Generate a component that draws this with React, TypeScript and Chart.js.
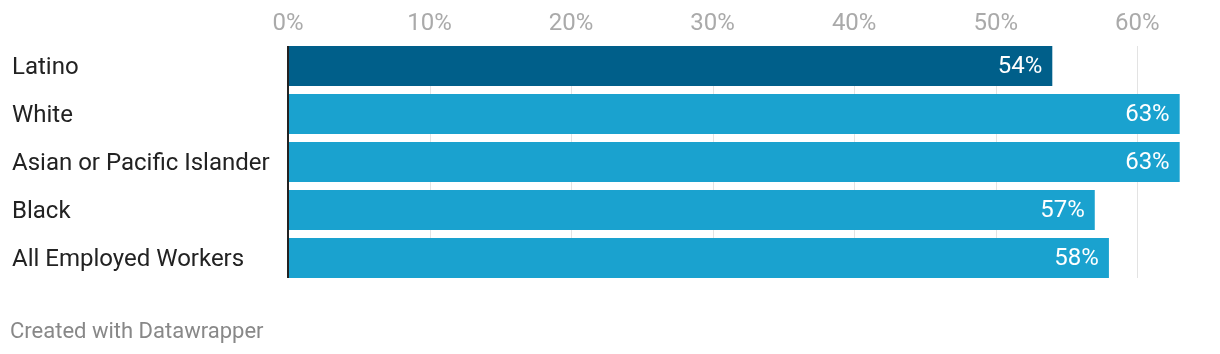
import React, { useEffect, useRef } from "react";
import { Chart, registerables } from "chart.js";

Chart.register(...registerables);

const categories = ["Latino", "White", "Asian or Pacific Islander", "Black", "All Employed Workers"];
const values = [54, 63, 63, 57, 58];
const barColors = ["#005f8a", "#1aa2cf", "#1aa2cf", "#1aa2cf", "#1aa2cf"];
const tickValues = [0, 10, 20, 30, 40, 50, 60];

const FONT = "Roboto, 'Noto Sans', sans-serif";

const gridAndAxis = {
  id: "gridAndAxis",
  beforeDatasetsDraw(chart: any) {
    const ctx = chart.ctx;
    const meta = chart.getDatasetMeta(0);
    const first = meta.data[0];
    const last = meta.data[meta.data.length - 1];
    const top = first.y - first.height / 2;
    const bottom = last.y + last.height / 2;
    const xs = chart.scales.x;
    ctx.save();
    ctx.strokeStyle = "#e3e3e3";
    ctx.lineWidth = 1;
    tickValues.forEach((v) => {
      if (v === 0) return;
      const px = Math.round(xs.getPixelForValue(v)) + 0.5;
      ctx.beginPath();
      ctx.moveTo(px, top);
      ctx.lineTo(px, bottom);
      ctx.stroke();
    });
    ctx.restore();
  },
  afterDatasetsDraw(chart: any) {
    const ctx = chart.ctx;
    const meta = chart.getDatasetMeta(0);
    const first = meta.data[0];
    const last = meta.data[meta.data.length - 1];
    const top = first.y - first.height / 2;
    const bottom = last.y + last.height / 2;
    const px = chart.scales.x.getPixelForValue(0);
    ctx.save();
    ctx.strokeStyle = "#222222";
    ctx.lineWidth = 2;
    ctx.beginPath();
    ctx.moveTo(px, top);
    ctx.lineTo(px, bottom);
    ctx.stroke();
    ctx.font = `24px ${FONT}`;
    ctx.fillStyle = "#ffffff";
    ctx.textAlign = "right";
    ctx.textBaseline = "middle";
    meta.data.forEach((bar: any, i: number) => {
      ctx.fillText(`${values[i]}%`, bar.x - 10, bar.y + 1);
    });
    ctx.restore();
  },
};

export default function App() {
  const ref = useRef<HTMLCanvasElement>(null);
  useEffect(() => {
    const chart = new Chart(ref.current!, {
      type: "bar",
      data: {
        labels: categories,
        datasets: [
          {
            data: values,
            backgroundColor: barColors,
            barPercentage: 40 / 48,
            categoryPercentage: 1,
            borderWidth: 0,
          },
        ],
      },
      options: {
        indexAxis: "y",
        animation: false,
        responsive: false,
        maintainAspectRatio: false,
        layout: { padding: { left: 12, right: 12, top: 0, bottom: 72 } },
        plugins: { legend: { display: false }, tooltip: { enabled: false } },
        scales: {
          x: {
            position: "top",
            min: 0,
            max: 65,
            afterBuildTicks: (axis: any) => {
              axis.ticks = tickValues.map((v) => ({ value: v }));
            },
            afterFit: (axis: any) => {
              axis.height = 42;
            },
            grid: { display: false, drawTicks: false },
            border: { display: false },
            ticks: {
              color: "#aaaaaa",
              font: { family: FONT, size: 24 },
              padding: 4,
              callback: (v: any) => `${v}%`,
            },
          },
          y: {
            afterFit: (axis: any) => {
              axis.width = 276;
            },
            grid: { display: false },
            border: { display: false },
            ticks: {
              crossAlign: "far",
              color: "#222222",
              font: { family: FONT, size: 24 },
              padding: 0,
              labelOffset: 2,
            },
          },
        },
      },
      plugins: [gridAndAxis],
    });
    return () => chart.destroy();
  }, []);
  return (
    <div style={{ position: "absolute", left: 0, top: 0, width: 1220, height: 354, background: "#fff" }}>
      <canvas ref={ref} width={1220} height={354} style={{ display: "block" }} />
      <div
        style={{
          position: "absolute",
          left: 10,
          top: 318,
          fontFamily: FONT,
          fontSize: 22,
          color: "#888888",
          lineHeight: "26px",
        }}
      >
        Created with Datawrapper
      </div>
    </div>
  );
}
